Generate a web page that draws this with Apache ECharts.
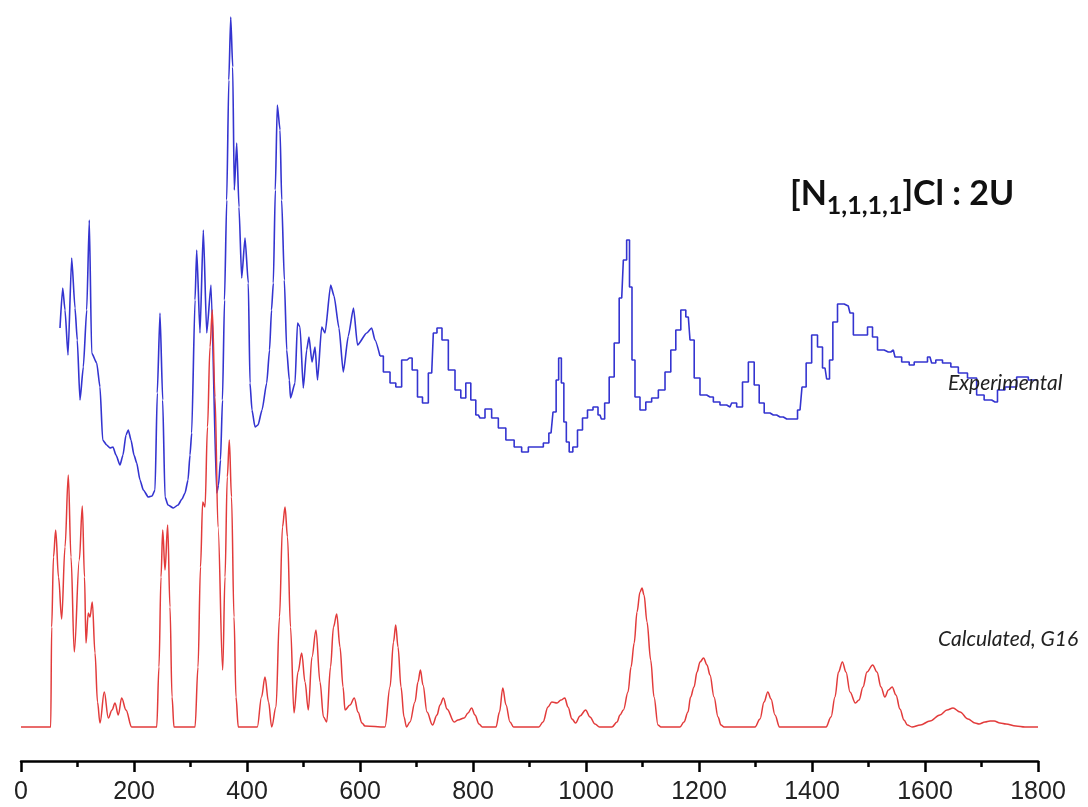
<!DOCTYPE html>
<html>
<head>
<meta charset="utf-8">
<script src="https://cdn.jsdelivr.net/npm/echarts@6/dist/echarts.min.js"></script>
<style>
html,body{margin:0;padding:0;background:#ffffff;}
#chart{width:1088px;height:807px;}
</style>
</head>
<body>
<div id="chart"></div>
<script>
// ---- data (wavenumber, cm-1 ; intensity, arbitrary units) ----
const xTickValues = [0, 200, 400, 600, 800, 1000, 1200, 1400, 1600, 1800];

const expWavenumber = [69.0,73.8,77.9,83.2,89.7,95.6,99.6,104.4,110.3,116.3,120.9,125.1,134.0,139.8,144.6,151.7,157.5,162.8,168.1,175.2,180.5,185.8,189.9,194.7,200.0,204.8,210.6,216.5,225.3,231.9,237.2,241.2,246.0,250.8,254.9,260.2,269.6,277.9,285.0,290.3,295.6,299.1,302.1,308.0,311.0,316.8,322.7,328.7,336.3,346.4,349.6,353.1,356.6,360.2,364.1,367.8,371.2,374.7,377.5,381.8,385.8,390.6,396.5,402.3,405.3,408.8,414.2,419.5,426.6,434.9,439.9,443.4,446.6,450.1,453.6,458.5,461.4,466.1,470.3,474.9,477.0,485.0,489.4,493.8,499.6,505.6,509.7,515.0,520.4,524.8,532.2,538.1,548.1,554.0,562.8,570.4,579.3,588.5,595.6,611.9,620.7,626.5,635.4,647.3,659.0,667.8,679.6,687.3,697.3,706.2,715.0,726.9,732.7,739.8,750.4,762.3,774.0,782.8,791.7,800.5,809.4,815.4,827.1,838.9,850.8,865.5,880.2,892.0,903.9,918.6,930.4,938.1,945.1,949.2,954.0,958.8,962.8,967.6,972.9,980.5,989.4,998.2,1007.1,1017.7,1024.8,1029.5,1036.6,1045.5,1054.3,1063.2,1069.0,1074.9,1079.1,1083.7,1089.7,1101.4,1110.3,1122.1,1134.0,1145.7,1154.5,1163.4,1172.2,1181.1,1187.1,1195.9,1207.6,1219.5,1231.3,1243.0,1254.9,1260.7,1272.6,1281.4,1293.3,1302.1,1311.0,1319.8,1331.5,1343.4,1355.2,1370.0,1378.8,1385.8,1393.5,1405.3,1414.2,1423.0,1428.9,1433.1,1440.7,1449.6,1464.2,1470.3,1476.1,1493.8,1502.7,1511.5,1520.4,1535.0,1543.9,1549.9,1567.6,1576.5,1585.3,1600.0,1608.8,1614.7,1623.5,1638.4,1653.1,1664.9,1685.5,1697.3,1712.0,1723.9,1732.7,1750.4,1774.0,1791.7,1798.2];
const expIntensity = [433,473,451,406,503,453,421,361,394,451,541,408,398,374,321,316,313,314,306,296,306,326,331,321,306,298,281,271,264,265,271,368,448,361,264,256,253,256,262,268,281,306,328,461,511,428,531,428,476,268,276,301,361,461,561,681,744,694,571,618,554,483,523,478,378,351,334,336,351,378,411,451,478,571,656,631,561,481,411,381,363,378,438,434,373,411,424,399,414,381,434,428,476,465,433,389,425,453,416,428,433,421,405,389,378,374,401,403,391,364,358,388,428,433,421,391,371,363,378,361,346,343,352,343,333,321,314,309,314,314,318,328,349,381,403,378,339,319,309,314,331,343,351,354,346,342,358,384,418,463,501,521,474,401,364,351,359,363,371,389,411,431,451,444,421,383,366,364,359,356,354,358,354,379,399,376,358,348,346,344,342,342,351,374,398,426,414,393,382,401,439,457,455,448,426,426,434,424,411,409,411,404,399,396,399,399,404,398,401,398,394,388,383,366,361,359,371,374,384,381,381];
// below this wavenumber the measured bins are finer than the drawing resolution
const expStepFrom = 635;

const calcWavenumber = [0,52.6,54.3,57.5,61.4,66.4,72.0,77.9,83.7,88.5,94.3,103.2,108.5,112.4,115.0,119.1,122.1,126.2,131.0,135.4,139.8,147.4,154.5,161.1,166.4,172.2,178.2,185.8,195.9,240.2,244.2,247.8,250.8,254.9,259.6,263.7,267.3,270.8,308.0,313.3,317.7,321.6,325.7,330.1,334.5,338.6,343.4,348.7,357.0,361.1,365.1,368.7,372.6,377.0,380.5,384.6,418.2,425.7,431.8,438.1,443.7,451.3,457.5,462.8,467.3,471.7,477.0,483.2,490.3,496.8,502.7,508.5,515.0,522.1,529.2,535.4,541.1,547.8,553.1,558.8,564.6,570.0,573.5,582.3,589.9,596.5,603.5,608.8,644.2,653.1,659.3,663.2,667.3,672.6,677.9,682.3,688.5,697.3,702.6,706.9,711.5,718.6,728.3,736.3,741.6,747.6,754.0,766.7,773.5,784.4,791.2,797.5,803.5,810.6,816.6,840.7,846.9,852.7,858.4,865.5,871.8,916.5,923.9,932.7,939.5,948.7,955.7,962.5,968.1,975.2,981.6,989.4,999.3,1007.1,1015.9,1023.9,1046.0,1054.9,1060.2,1066.2,1074.4,1079.7,1085.3,1090.3,1095.6,1099.1,1102.7,1108.0,1114.5,1120.4,1127.4,1132.7,1166.4,1173.4,1180.5,1185.1,1191.2,1196.5,1201.8,1208.1,1214.2,1219.5,1226.6,1233.7,1238.9,1244.3,1299.1,1308.0,1315.1,1321.8,1327.5,1334.5,1342.5,1424.8,1433.7,1440.7,1446.9,1453.8,1460.2,1467.3,1476.8,1483.2,1490.3,1497.3,1507.4,1515.0,1522.1,1529.0,1535.3,1541.9,1548.6,1555.7,1562.8,1568.8,1577.0,1591.8,1608.8,1626.5,1638.9,1649.6,1662.0,1676.1,1688.5,1695.6,1706.2,1715.1,1722.5,1732.7,1743.4,1760.8,1776.9,1800];
const calcIntensity = [0,0,100,170,197,150,108,180,252,170,75,167,221,150,84,114,110,125,74,25,4,35,9,17,24,12,29,17,0,0,60,150,197,157,202,120,30,0,0,60,160,225,220,300,380,417,330,200,57,150,250,287,230,110,30,0,0,30,50,25,0,20,110,200,220,190,100,14,55,74,45,17,70,97,45,10,5,60,100,113,80,40,17,22,29,15,4,1,0,40,85,102,80,40,10,0,5,25,45,57,42,15,2,12,22,29,18,5,7,9,14,19,12,3,0,0,15,39,22,5,0,0,5,20,25,24,27,29,20,8,4,11,17,10,3,0,0,5,12,17,35,60,84,115,135,139,132,105,67,30,2,0,0,5,15,30,40,55,65,69,62,52,30,10,2,0,0,8,25,35,28,12,0,0,10,30,55,65,55,35,24,27,40,55,62,55,40,30,37,40,32,18,7,2,0,2,6,12,17,19,15,8,4,3,5,6,6,4,3,1,0,0];

const titleMain1 = '[N';
const titleSub = '1,1,1,1';
const titleMain2 = ']Cl : 2U';
const expLabel = 'Experimental';
const calcLabel = 'Calculated, G16';

// ---- build chart ----
const expPairs = expWavenumber.map((w, i) => [w, expIntensity[i]]);
const expLow = expPairs.filter(p => p[0] <= expStepFrom + 1);
const expHigh = expPairs.filter(p => p[0] >= expStepFrom);
const calcData = calcWavenumber.map((w, i) => [w, calcIntensity[i]]);

const mainFont = 'bold 34px Lato';
const subFont = 'bold 25px Lato';
const ctx = document.createElement('canvas').getContext('2d');
function tw(s, f) { ctx.font = f; return ctx.measureText(s).width; }
const tx0 = 790;
const w1 = tw(titleMain1, mainFont);
const w2 = tw(titleSub, subFont);

const blue = '#3434d0';
const chart = echarts.init(document.getElementById('chart'), null, {renderer: 'canvas'});
chart.setOption({
  animation: false,
  backgroundColor: '#ffffff',
  grid: {left: 21, right: 50, top: 11, bottom: 46, containLabel: false},
  xAxis: {
    type: 'value', min: 0, max: 1800, interval: 200,
    axisLine: {show: true, onZero: false, lineStyle: {color: '#000', width: 2.5}},
    axisTick: {show: true, length: 11, lineStyle: {color: '#000', width: 2.5}},
    minorTick: {show: true, splitNumber: 2, length: 6, lineStyle: {color: '#000', width: 2.5}},
    axisLabel: {fontSize: 25, fontFamily: 'Liberation Sans, Arial, sans-serif', color: '#222', margin: 19,
      formatter: v => xTickValues.indexOf(v) >= 0 ? String(v) : ''},
    splitLine: {show: false}, minorSplitLine: {show: false}
  },
  yAxis: [
    {type: 'value', min: 0, max: 750, show: false, splitLine: {show: false}},
    {type: 'value', min: -34, max: 716, show: false, splitLine: {show: false}}
  ],
  series: [
    {name: 'Experimental', type: 'line', yAxisIndex: 0, data: expLow, smooth: 0.2, smoothMonotone: 'x',
      showSymbol: false, lineStyle: {color: blue, width: 1.6}, z: 2},
    {name: 'Experimental', type: 'line', yAxisIndex: 0, data: expHigh, step: 'middle',
      showSymbol: false, lineStyle: {color: blue, width: 1.6}, z: 2},
    {name: 'Calculated, G16', type: 'line', yAxisIndex: 1, data: calcData, smooth: 0.35, smoothMonotone: 'x',
      showSymbol: false, lineStyle: {color: '#e23b3b', width: 1.5}, z: 3}
  ],
  graphic: [
    {type: 'text', left: tx0, top: 177, style: {text: titleMain1, font: mainFont, fill: '#111'}},
    {type: 'text', left: tx0 + w1, top: 193, style: {text: titleSub, font: subFont, fill: '#111'}},
    {type: 'text', left: tx0 + w1 + w2, top: 177, style: {text: titleMain2, font: mainFont, fill: '#111'}},
    {type: 'text', left: 948, top: 373, style: {text: expLabel, font: 'italic 21px Lato', fill: '#222'}, z: 10},
    {type: 'text', left: 938, top: 629, style: {text: calcLabel, font: 'italic 21px Lato', fill: '#222'}, z: 10}
  ]
});
</script>
</body>
</html>
